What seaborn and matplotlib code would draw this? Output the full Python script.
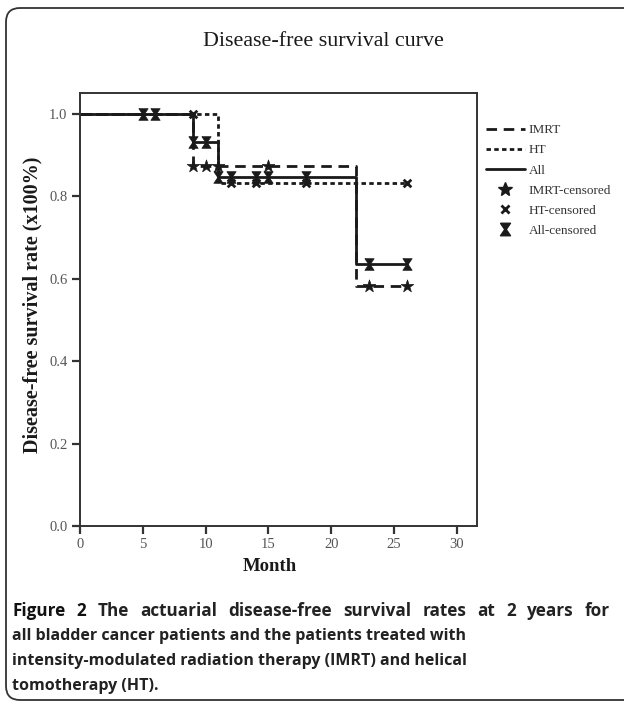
import numpy as np
import pandas as pd
import matplotlib
matplotlib.use('Agg')
import matplotlib.pyplot as plt
from matplotlib.lines import Line2D
from matplotlib.patches import FancyBboxPatch
import seaborn as sns

# step curves (month, survival)
imrt_month = [0, 9, 22, 26]
imrt_surv = [1.0, 0.875, 0.583, 0.583]
ht_month = [0, 11, 26]
ht_surv = [1.0, 0.833, 0.833]
all_month = [0, 9, 11, 22, 26]
all_surv = [1.0, 0.933, 0.848, 0.636, 0.636]

# censored observations
imrt_cens_month = [9, 10, 11, 15, 23, 26]
imrt_cens_surv = [0.875, 0.875, 0.875, 0.875, 0.583, 0.583]
ht_cens_month = [9, 12, 14, 18, 26]
ht_cens_surv = [1.0, 0.833, 0.833, 0.833, 0.833]
all_cens_month = [5, 6, 9, 10, 11, 12, 14, 15, 18, 23, 26]
all_cens_surv = [1.0, 1.0, 0.933, 0.933, 0.848, 0.848, 0.848, 0.848, 0.848, 0.636, 0.636]

x_ticks = [0, 5, 10, 15, 20, 25, 30]
y_ticks = [0.0, 0.2, 0.4, 0.6, 0.8, 1.0]

caption_lines = [
    'Figure 2 The actuarial disease-free survival rates at 2 years for',
    'all bladder cancer patients and the patients treated with',
    'intensity-modulated radiation therapy (IMRT) and helical',
    'tomotherapy (HT).',
]

sns.set_style('ticks')
plt.rcParams['font.family'] = ['Liberation Serif', 'DejaVu Serif']

hourglass = [(-0.8, 1), (0.8, 1), (0.12, 0), (0.8, -1), (-0.8, -1), (-0.12, 0), (-0.8, 1)]
ink = '#1a1a1a'
cap_font = ['Open Sans', 'DejaVu Sans']

fig = plt.figure(figsize=(6.24, 7.04), dpi=100)
ax = fig.add_axes([80 / 624, 1 - 526 / 704, 397 / 624, 433 / 704])

sns.lineplot(x=imrt_month, y=imrt_surv, ax=ax, estimator=None, sort=False,
             drawstyle='steps-post', color=ink, lw=2, linestyle=(0, (3.8, 2.4)))
sns.lineplot(x=ht_month, y=ht_surv, ax=ax, estimator=None, sort=False,
             drawstyle='steps-post', color=ink, lw=2, linestyle=(0, (1.6, 1.2)))
sns.lineplot(x=all_month, y=all_surv, ax=ax, estimator=None, sort=False,
             drawstyle='steps-post', color=ink, lw=2)

sns.scatterplot(x=imrt_cens_month, y=imrt_cens_surv, ax=ax, marker='*', s=90,
                color=ink, edgecolor=ink, linewidth=0.5, zorder=4)
sns.scatterplot(x=ht_cens_month, y=ht_cens_surv, ax=ax, marker='x', s=30,
                color=ink, linewidth=2, zorder=4)
sns.scatterplot(x=all_cens_month, y=all_cens_surv, ax=ax, marker=hourglass, s=70,
                color=ink, edgecolor=ink, linewidth=0.5, zorder=5)

ax.set_xlim(0, 31.6)
ax.set_ylim(0, 1.051)
ax.set_xticks(x_ticks)
ax.set_yticks(y_ticks)
ax.set_xticklabels([str(t) for t in x_ticks])
ax.set_yticklabels(['%.1f' % t for t in y_ticks])
ax.tick_params(direction='out', length=6, width=1.6, color='#333333',
               labelsize=10.5, labelcolor='#555555', pad=3)
for sp in ax.spines.values():
    sp.set_visible(True)
    sp.set_linewidth(1.4)
    sp.set_color('#333333')

ax.set_xlabel('Month', fontsize=13.5, fontweight='bold', color=ink)
ax.xaxis.set_label_coords((270 - 80) / 397, -32 / 433)
ax.set_ylabel('Disease-free survival rate (x100%)', fontsize=14.5, fontweight='bold', color=ink)
ax.yaxis.set_label_coords(-38 / 397, (526 - 305) / 433)

fig.text(323 / 624, 1 - 42 / 704, 'Disease-free survival curve', ha='center', va='center',
         fontsize=15.8, color=ink)

handles = [
    Line2D([], [], color=ink, lw=2, linestyle=(0, (3.8, 2.4))),
    Line2D([], [], color=ink, lw=2, linestyle=(0, (1.6, 1.2))),
    Line2D([], [], color=ink, lw=2),
    Line2D([], [], color=ink, lw=0, marker='*', markersize=10),
    Line2D([], [], color=ink, lw=0, marker='x', markersize=6, markeredgewidth=2),
    Line2D([], [], color=ink, lw=0, marker=hourglass, markersize=9),
]
labels = ['IMRT', 'HT', 'All', 'IMRT-censored', 'HT-censored', 'All-censored']
leg = fig.legend(handles, labels, loc='upper left', bbox_to_anchor=(486 / 624, 1 - 124 / 704),
                 frameon=False, fontsize=9.5, handlelength=2.95, handletextpad=0.3,
                 labelspacing=0.6, borderpad=0, borderaxespad=0)
for t in leg.get_texts():
    t.set_color('#333333')

# caption, first line justified across the box width
cap_y = [611, 636, 661, 686]
fig.canvas.draw()
r = fig.canvas.get_renderer()
words = caption_lines[0].split(' ')
objs = []
for i, w in enumerate(words):
    objs.append(fig.text(0, 1 - cap_y[0] / 704, w, ha='left', va='center',
                         fontsize=12.3, fontweight='bold', family=cap_font,
                         color='#111111' if i < 2 else '#222222'))
widths = [o.get_window_extent(renderer=r).width for o in objs]
gap = (610 - 12 - sum(widths)) / (len(words) - 1)
xpos = 12
for o, wd in zip(objs, widths):
    o.set_x(xpos / 624)
    xpos += wd + gap
for yy, line in zip(cap_y[1:], caption_lines[1:]):
    fig.text(12 / 624, 1 - yy / 704, line, ha='left', va='center',
             fontsize=11.5, fontweight='bold', family=cap_font, color='#222222')

frame = FancyBboxPatch((0.06, 0.04), 6.6, 6.92, boxstyle='round,pad=0,rounding_size=0.14',
                       transform=fig.dpi_scale_trans, fill=False, lw=1.3, ec='#333333')
fig.patches.append(frame)

fig.savefig('out.png', dpi=100)
